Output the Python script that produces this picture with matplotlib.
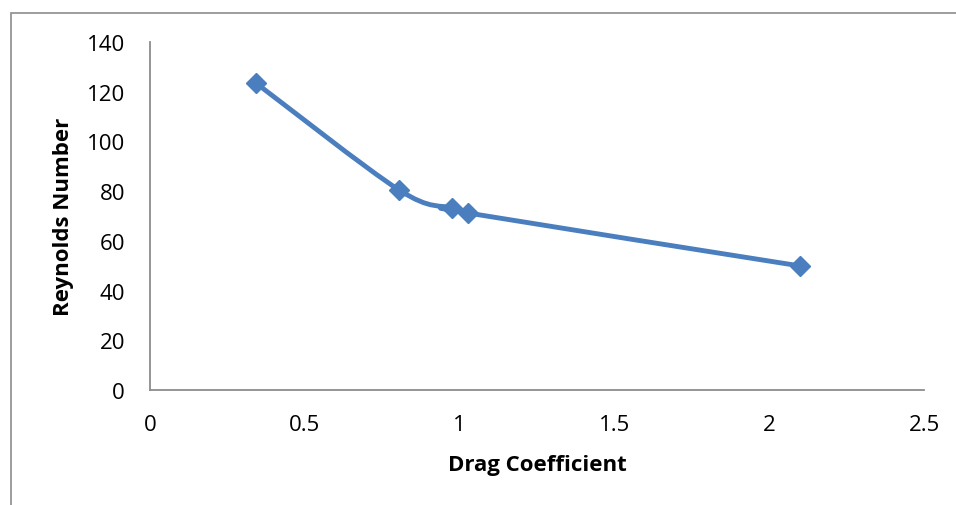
import matplotlib.pyplot as plt
from matplotlib.path import Path
from matplotlib.patches import PathPatch, Rectangle
import numpy as np

drag_coefficient = [0.342, 0.804, 0.975, 1.027, 2.10]
reynolds_number = [123.5, 80.5, 73.2, 71.2, 49.9]

plt.rcParams['font.family'] = ['Open Sans', 'DejaVu Sans']

fig = plt.figure(figsize=(9.56, 5.06), dpi=100)
ax = fig.add_axes([150 / 956, 1 - 391 / 506, 774 / 956, 348 / 506])

line_color = '#4A7EBF'


def smooth_path(xs, ys):
    # Catmull-Rom style bezier, similar to Excel's smoothed line
    pts = np.column_stack([xs, ys])
    verts = [pts[0]]
    codes = [Path.MOVETO]
    n = len(pts)
    for i in range(n - 1):
        p0 = pts[i - 1] if i > 0 else pts[i]
        p1 = pts[i]
        p2 = pts[i + 1]
        p3 = pts[i + 2] if i + 2 < n else pts[i + 1]
        c1 = p1 + (p2 - p0) / 6
        c2 = p2 - (p3 - p1) / 6
        verts += [c1, c2, p2]
        codes += [Path.CURVE4] * 3
    return Path(verts, codes)


ax.add_patch(PathPatch(smooth_path(drag_coefficient, reynolds_number),
                       facecolor='none', edgecolor=line_color, lw=3.5,
                       capstyle='round', joinstyle='round', zorder=2))
ax.plot(drag_coefficient, reynolds_number, linestyle='none', marker='D',
        markersize=10, color=line_color, zorder=3)

ax.set_xlim(0, 2.5)
ax.set_ylim(0, 140)
ax.set_xticks([0, 0.5, 1, 1.5, 2, 2.5])
ax.set_xticklabels(['0', '0.5', '1', '1.5', '2', '2.5'])
ax.set_yticks(range(0, 141, 20))

for side in ['top', 'right']:
    ax.spines[side].set_visible(False)
for side in ['left', 'bottom']:
    ax.spines[side].set_color('#8C8C8C')
    ax.spines[side].set_linewidth(1.3)

ax.tick_params(length=0, labelsize=16, colors='black')
ax.tick_params(axis='y', pad=18)
ax.tick_params(axis='x', pad=17)

ax.set_xlabel('Drag Coefficient', fontsize=16, fontweight='bold', labelpad=14)
ax.set_ylabel('Reynolds Number', fontsize=16, fontweight='bold', labelpad=9)

# outer chart border
fig.patches.append(Rectangle((11 / 956, -0.1), 1.2, 1 - 14 / 506 + 0.1,
                             transform=fig.transFigure, fill=False,
                             edgecolor='#8C8C8C', lw=1.2))

fig.savefig('out.png', dpi=100)
